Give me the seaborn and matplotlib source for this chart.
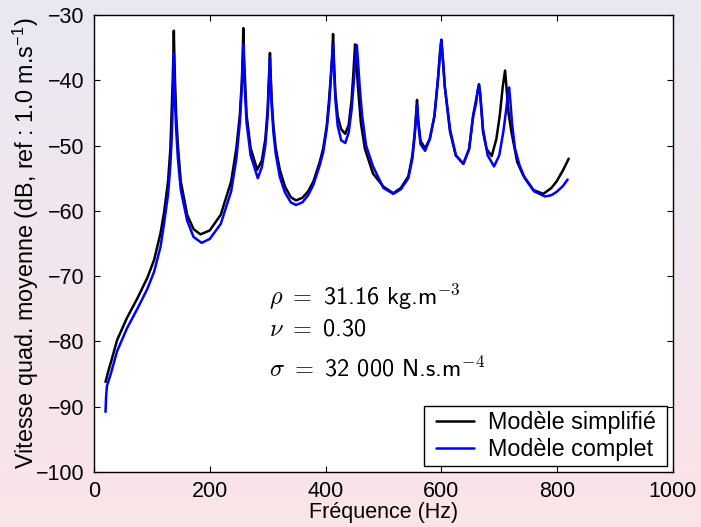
import numpy as np
import pandas as pd
import matplotlib
matplotlib.use("Agg")
import matplotlib.pyplot as plt
from matplotlib.legend_handler import HandlerLine2D
import seaborn as sns

# ---- data ----
freq_simplifie = [20, 25, 29, 40, 57, 75, 92, 104, 115, 121, 128, 132, 134, 136, 137.3, 138, 138.8, 140, 142, 145,
                  150, 161, 172, 184, 200, 219, 237, 246, 252, 255.5, 257, 258, 259, 261, 263.6, 270.6, 282, 290,
                  296, 300, 302, 303.3, 304, 305, 307, 310, 314, 321, 330, 340, 349, 360, 370, 379, 390, 396,
                  402, 406, 409, 411.5, 413, 414.5, 417, 421, 427, 434, 440, 445, 448, 450, 451, 453, 456, 461,
                  468, 482, 500, 517, 530, 543, 550, 554, 556.5, 558, 560, 564, 572, 580, 588, 594, 598, 600,
                  602, 606, 615, 625, 638, 648, 655, 660, 663, 665, 667, 672, 678, 687, 695, 701, 706, 710,
                  712, 716, 721, 731, 741, 759, 776, 790, 799, 810, 820]
db_simplifie = [-86.2, -84.5, -83.3, -79.8, -76.4, -73.4, -70.3, -67.5, -63.4, -60.3, -55.5, -50.5, -45.3, -40.0,
                -36.0, -32.4, -36.0, -40.0, -45.3, -50.0, -55.5, -60.6, -62.8, -63.6, -63.0, -60.6, -55.5, -50.4,
                -45.3, -40.0, -36.0, -32.0, -36.0, -40.0, -45.3, -50.4, -53.7, -52.3, -49.0, -44.5, -40.0, -37.5,
                -35.8, -38.5, -43.0, -47.0, -50.4, -53.7, -56.3, -57.9, -58.4, -58.0, -57.0, -55.5, -52.5, -50.4,
                -47.0, -43.1, -39.5, -36.0, -32.9, -37.0, -42.0, -45.5, -47.5, -48.2, -46.8, -43.0, -39.0, -36.0,
                -34.5, -37.0, -41.0, -46.5, -50.5, -54.3, -56.3, -57.3, -56.5, -54.7, -51.5, -48.0, -45.0, -43.0,
                -46.0, -49.3, -50.4, -49.0, -45.5, -40.0, -35.5, -33.8, -36.0, -41.0, -47.9, -51.5, -52.8, -50.5,
                -45.3, -43.0, -41.5, -40.6, -42.0, -47.9, -50.5, -51.6, -49.0, -45.3, -41.0, -38.5, -40.5, -45.0,
                -47.9, -52.5, -54.5, -56.8, -57.4, -56.5, -55.5, -53.8, -52.0]

freq_complet = [20, 21, 22.5, 29, 40, 57, 75, 92, 104, 115, 121, 128, 132, 134.5, 136.3, 137.5, 138, 138.8, 140,
                142, 145, 150, 161, 172, 186, 200, 219, 237, 246, 252, 255.5, 257, 258, 259, 261, 263.6, 270.6,
                283, 290, 296, 300, 302, 303.3, 304, 305, 307, 310, 314, 321, 330, 340, 349, 360, 370, 379, 390,
                396, 402, 406, 409, 411.5, 413, 414.5, 417, 421, 427, 434, 440, 445, 449, 452, 454, 456, 459,
                463, 470, 482, 500, 517, 530, 543, 550, 554, 556.5, 558, 560, 564, 572, 580, 588, 594, 598, 600,
                602, 606, 615, 625, 638, 648, 655, 660, 663, 665, 667, 672, 680, 691, 700, 707, 712, 715, 717,
                719, 722, 727, 735, 744, 760, 779, 790, 799, 810, 818]
db_complet = [-90.8, -88.5, -86.8, -85.0, -81.5, -78.0, -75.0, -72.0, -69.3, -65.5, -62.0, -57.5, -53.0, -48.5,
              -43.0, -38.5, -35.9, -38.5, -43.0, -47.5, -52.0, -56.8, -61.5, -64.0, -64.9, -64.3, -62.0, -57.0,
              -52.0, -46.5, -41.0, -37.0, -34.5, -37.5, -42.0, -46.5, -51.5, -55.0, -53.3, -50.0, -45.5, -41.0,
              -38.5, -36.6, -39.5, -44.0, -48.0, -51.3, -54.8, -57.2, -58.7, -59.1, -58.7, -57.6, -56.0, -53.0,
              -51.0, -47.5, -44.0, -40.0, -36.5, -34.6, -38.0, -43.0, -47.0, -49.2, -49.6, -48.0, -44.5, -40.0,
              -36.5, -34.6, -37.0, -41.0, -45.3, -50.0, -53.2, -56.5, -57.4, -56.7, -55.0, -52.0, -48.5, -45.5,
              -43.8, -46.5, -49.8, -50.8, -49.0, -45.5, -40.0, -35.5, -33.8, -36.0, -41.0, -47.5, -51.5, -52.8,
              -50.5, -45.5, -43.5, -41.5, -40.8, -42.0, -47.5, -51.5, -53.2, -51.5, -47.9, -44.5, -42.0, -41.1,
              -43.0, -46.5, -50.4, -53.0, -55.0, -57.0, -57.8, -57.6, -57.1, -56.2, -55.2]

series_names = ["Modèle simplifié", "Modèle complet"]
series_colors = ["#000000", "#0000FF"]
x_ticks = [0, 200, 400, 600, 800, 1000]
y_ticks = [-100, -90, -80, -70, -60, -50, -40, -30]
annotations = [r"$\rho\ =\ $31.16 kg.m$^{-3}$",
               r"$\nu\ =\ $0.30",
               r"$\sigma\ =\ $32 000 N.s.m$^{-4}$"]
annot_y = [-73.2, -78.2, -84.2]

df = pd.concat([
    pd.DataFrame({"f": freq_simplifie, "db": db_simplifie, "modele": series_names[0]}),
    pd.DataFrame({"f": freq_complet, "db": db_complet, "modele": series_names[1]}),
], ignore_index=True)

sns.set_style("white")
plt.rcParams['font.family'] = ['Liberation Sans', 'DejaVu Sans']
plt.rcParams['mathtext.fontset'] = 'custom'
plt.rcParams['mathtext.rm'] = 'Liberation Sans'
plt.rcParams['mathtext.it'] = 'Liberation Sans:italic'
plt.rcParams['axes.unicode_minus'] = True
plt.rcParams['text.color'] = 'black'
plt.rcParams['axes.labelcolor'] = 'black'

fig = plt.figure(figsize=(7.01, 5.27), dpi=100)

# gradient background
bg = fig.add_axes([0, 0, 1, 1], zorder=-10)
top = np.array([234, 232, 243]) / 255.0
bot = np.array([250, 228, 232]) / 255.0
t = np.linspace(0, 1, 256)[:, None]
grad = (top[None, :] * (1 - t) + bot[None, :] * t)[:, None, :]
bg.imshow(grad, aspect='auto', extent=[0, 1, 0, 1])
bg.axis('off')
fig.patch.set_facecolor(top)

ax = fig.add_axes([0.134, 0.1044, 0.960 - 0.134, 0.9715 - 0.1044])
ax.set_facecolor('white')

sns.lineplot(data=df, x="f", y="db", hue="modele", palette=series_colors, hue_order=series_names,
             sort=False, estimator=None, linewidth=1.8, ax=ax)

ax.set_xlim(0, 1000)
ax.set_ylim(-100, -30)
ax.set_xticks(x_ticks)
ax.set_yticks(y_ticks)
ax.tick_params(direction='in', length=4.3, width=0.8, bottom=True, left=True, top=True, right=True,
               labelsize=15.5, colors='black')
ax.tick_params(axis='x', pad=6.5)
ax.tick_params(axis='y', pad=6.5)
for s in ax.spines.values():
    s.set_color('black')
    s.set_linewidth(1.0)
    s.set_visible(True)

ax.set_xlabel("Fréquence (Hz)", fontsize=15.5, labelpad=0, color='black')
ax.set_ylabel(r"Vitesse quad. moyenne (dB, ref : 1.0 m.s$^{-1}$)", fontsize=16.8, labelpad=-3.5,
              color='black')

for txt, yy in zip(annotations, annot_y):
    ax.text(303, yy, txt, fontsize=17.5, va='center', ha='left', math_fontfamily='cm',
            family=['cmss10', 'DejaVu Sans'], color='black')

handles, _ = ax.get_legend_handles_labels()
leg = ax.legend(handles, [n + " " for n in series_names], loc='lower right', fontsize=16.8, frameon=True,
                fancybox=False, framealpha=1, edgecolor='black', handlelength=1.93, handletextpad=0.6,
                labelspacing=0.18, borderpad=0.2, borderaxespad=0.26,
                handler_map={h: HandlerLine2D(xpad=0.3) for h in handles})
leg.get_frame().set_linewidth(1.0)

fig.savefig("out.png", dpi=100)
